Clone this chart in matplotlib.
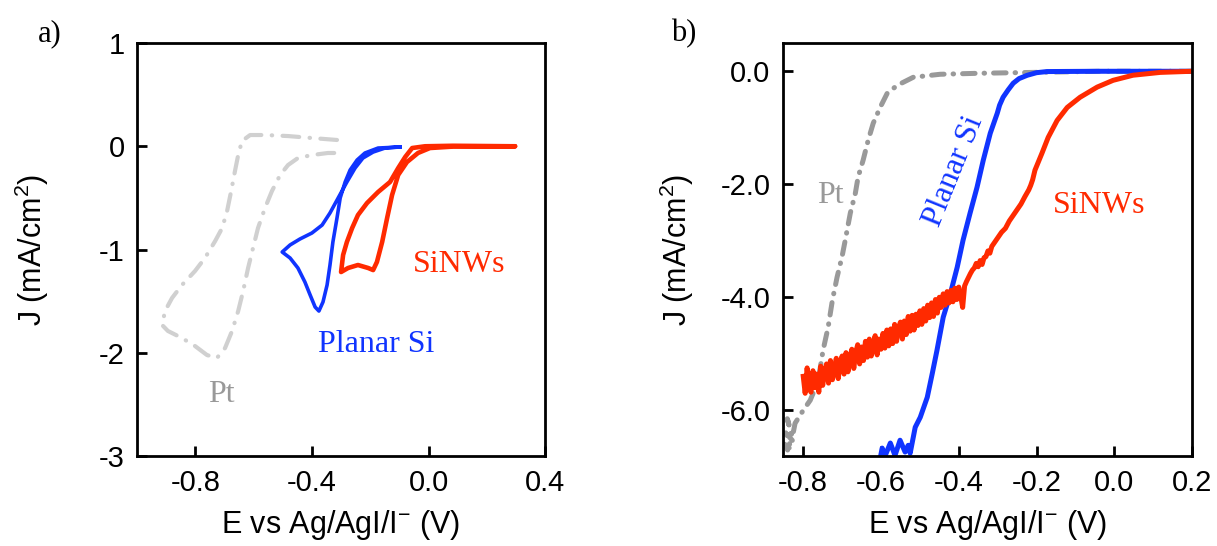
import matplotlib
matplotlib.use("Agg")
import matplotlib.pyplot as plt

plt.rcParams['font.family'] = ['Liberation Sans', 'DejaVu Sans']
plt.rcParams['mathtext.fontset'] = 'custom'
plt.rcParams['mathtext.rm'] = 'Liberation Sans'

# ---- panel a: cyclic voltammograms ----
pt_a_x = [-0.314, -0.400, -0.482, -0.561, -0.612, -0.640, -0.653, -0.664, -0.677, -0.691,
          -0.708, -0.732, -0.767, -0.801, -0.846, -0.880, -0.904, -0.914, -0.894, -0.846,
          -0.801, -0.760, -0.726, -0.698, -0.674, -0.653, -0.636, -0.619, -0.602, -0.585,
          -0.561, -0.537, -0.509, -0.482, -0.448, -0.400, -0.345, -0.297]
pt_a_y = [0.061, 0.080, 0.099, 0.109, 0.109, 0.051, -0.085, -0.240, -0.433, -0.627,
          -0.792, -0.918, -1.082, -1.208, -1.344, -1.470, -1.596, -1.731, -1.789, -1.857,
          -1.935, -2.022, -2.051, -1.954, -1.789, -1.596, -1.402, -1.179, -0.985, -0.792,
          -0.598, -0.433, -0.278, -0.182, -0.114, -0.085, -0.065, -0.065]

si_a_x = [-0.098, -0.149, -0.190, -0.225, -0.252, -0.280, -0.310, -0.338, -0.365, -0.400,
          -0.441, -0.475, -0.502, -0.475, -0.448, -0.424, -0.406, -0.389, -0.376, -0.362,
          -0.348, -0.338, -0.328, -0.314, -0.303, -0.286, -0.269, -0.245, -0.218, -0.173,
          -0.098]
si_a_y = [-0.007, -0.017, -0.056, -0.114, -0.211, -0.346, -0.501, -0.646, -0.763, -0.840,
          -0.898, -0.956, -1.024, -1.082, -1.179, -1.315, -1.441, -1.557, -1.596, -1.508,
          -1.344, -1.150, -0.927, -0.695, -0.501, -0.346, -0.230, -0.133, -0.065, -0.017,
          -0.007]

nw_a_x = [0.297, 0.084, -0.012, -0.056, -0.080, -0.104, -0.132, -0.173, -0.211, -0.242,
          -0.262, -0.280, -0.293, -0.300, -0.276, -0.242, -0.207, -0.190, -0.177, -0.159,
          -0.142, -0.125, -0.104, -0.074, -0.036, 0.005, 0.084, 0.297]
nw_a_y = [0.0, 0.005, 0.0, -0.017, -0.104, -0.211, -0.346, -0.443, -0.550, -0.666,
          -0.792, -0.927, -1.053, -1.218, -1.179, -1.150, -1.179, -1.199, -1.121, -0.927,
          -0.695, -0.472, -0.278, -0.153, -0.065, -0.017, -0.003, 0.0]

# ---- panel b: linear sweeps ----
pt_b_x = [0.200, -0.036, -0.191, -0.345, -0.448, -0.517, -0.558, -0.584, -0.602, -0.620,
          -0.633, -0.646, -0.659, -0.666, -0.679, -0.692, -0.700, -0.713, -0.725, -0.736,
          -0.749, -0.756, -0.764, -0.782, -0.800, -0.821, -0.828, -0.841, -0.826, -0.845,
          -0.830, -0.848, -0.833]
pt_b_y = [0.0, 0.0, -0.018, -0.035, -0.053, -0.106, -0.248, -0.389, -0.637, -0.920,
          -1.221, -1.575, -1.876, -2.159, -2.513, -2.991, -3.274, -3.646, -4.053, -4.531,
          -4.938, -5.239, -5.522, -5.823, -6.000, -6.230, -6.478, -6.150, -6.550, -6.400,
          -6.700, -6.600, -6.800]

si_b_x = [0.200, -0.036, -0.173, -0.200, -0.224, -0.245, -0.260, -0.273, -0.286, -0.295,
          -0.301, -0.319, -0.337, -0.353, -0.371, -0.389, -0.404, -0.422, -0.440, -0.456,
          -0.468, -0.481, -0.499, -0.512, -0.520, -0.525, -0.530, -0.538, -0.551, -0.564,
          -0.576, -0.589, -0.597, -0.602]
si_b_y = [0.0, 0.0, -0.005, -0.025, -0.071, -0.130, -0.212, -0.330, -0.460, -0.600,
          -0.743, -1.097, -1.575, -2.053, -2.513, -2.991, -3.469, -3.947, -4.354, -4.938,
          -5.345, -5.770, -6.124, -6.301, -6.584, -6.761, -6.620, -6.740, -6.530, -6.800,
          -6.580, -6.800, -6.670, -6.850]

nw_b_x = [-0.800, -0.795, -0.790, -0.785, -0.780, -0.775, -0.770, -0.765, -0.760, -0.755,
          -0.750, -0.745, -0.740, -0.735, -0.730, -0.725, -0.720, -0.715, -0.710, -0.705,
          -0.700, -0.695, -0.690, -0.685, -0.680, -0.675, -0.670, -0.665, -0.660, -0.655,
          -0.650, -0.645, -0.640, -0.635, -0.630, -0.625, -0.620, -0.615, -0.610, -0.605,
          -0.600, -0.595, -0.590, -0.585, -0.580, -0.575, -0.570, -0.565, -0.560, -0.555,
          -0.550, -0.545, -0.540, -0.535, -0.530, -0.525, -0.520, -0.515, -0.510, -0.505,
          -0.500, -0.495, -0.490, -0.485, -0.480, -0.475, -0.470, -0.465, -0.460, -0.455,
          -0.450, -0.445, -0.440, -0.435, -0.430, -0.425, -0.420, -0.415, -0.410, -0.405,
          -0.400, -0.395, -0.390, -0.385, -0.380, -0.375, -0.370, -0.365, -0.360, -0.355,
          -0.350, -0.345, -0.340, -0.335, -0.330, -0.325, -0.320, -0.315, -0.310, -0.300,
          -0.290, -0.280, -0.270, -0.260, -0.250, -0.240, -0.230, -0.220, -0.215, -0.210,
          -0.204, -0.186, -0.170, -0.147, -0.121, -0.088, -0.044, -0.003, 0.048, 0.118,
          0.200]
nw_b_y = [-5.40, -5.70, -5.25, -5.62, -5.68, -5.30, -5.60, -5.36, -5.68, -5.22,
          -5.56, -5.32, -5.18, -5.52, -5.12, -5.46, -5.26, -5.08, -5.44, -5.18,
          -5.04, -5.36, -4.98, -5.32, -5.08, -4.92, -5.26, -4.98, -4.84, -5.18,
          -4.88, -5.12, -4.78, -5.06, -4.74, -5.04, -4.82, -4.68, -5.02, -4.74,
          -4.92, -4.64, -4.90, -4.58, -4.86, -4.56, -4.82, -4.48, -4.78, -4.54,
          -4.44, -4.74, -4.42, -4.66, -4.34, -4.60, -4.32, -4.58, -4.30, -4.50,
          -4.24, -4.48, -4.20, -4.42, -4.14, -4.36, -4.10, -4.34, -4.04, -4.28,
          -4.00, -4.18, -3.94, -4.14, -3.90, -4.10, -3.88, -4.08, -3.84, -4.04,
          -3.82, -3.98, -4.18, -3.80, -3.72, -3.65, -3.58, -3.52, -3.48, -3.40,
          -3.46, -3.35, -3.42, -3.30, -3.28, -3.18, -3.22, -3.10, -3.05, -2.95,
          -2.85, -2.78, -2.65, -2.55, -2.45, -2.35, -2.22, -2.10, -2.02, -1.92,
          -1.75, -1.45, -1.17, -0.87, -0.64, -0.46, -0.28, -0.16, -0.07, -0.02,
          0.0]

a_xticks = [-0.8, -0.4, 0.0, 0.4]
a_yticks = [1, 0, -1, -2, -3]
b_xticks = [-0.8, -0.6, -0.4, -0.2, 0.0, 0.2]
b_yticks = [0.0, -2.0, -4.0, -6.0]

blue = '#1034ff'
red = '#ff2a00'

fig = plt.figure(figsize=(12.17, 5.46), dpi=100)
ax1 = fig.add_axes([0.1126, 0.1648, 0.3353, 0.7564])
ax2 = fig.add_axes([0.6434, 0.1648, 0.3361, 0.7564])

ax1.plot(pt_a_x, pt_a_y, color='#d0d0d0', lw=3, ls=(0, (4, 2.5, 0.1, 2.5)),
         dash_capstyle='round', solid_joinstyle='round')
ax1.plot(si_a_x, si_a_y, color=blue, lw=2.6, solid_joinstyle='round')
ax1.plot(nw_a_x, nw_a_y, color=red, lw=3.3, solid_joinstyle='round', solid_capstyle='round')
ax1.set_xlim(-1.0, 0.4)
ax1.set_ylim(-3, 1)
ax1.set_xticks(a_xticks)
ax1.set_xticklabels(['-0.8', '-0.4', '0.0', '0.4'])
ax1.set_yticks(a_yticks)
ax1.set_yticklabels(['1', '0', '-1', '-2', '-3'])
ax1.text(-0.378, -1.99, 'Planar Si', color=blue, family='Liberation Serif', fontsize=23)
ax1.text(-0.053, -1.22, 'SiNWs', color=red, family='Liberation Serif', fontsize=23)
ax1.text(-0.756, -2.48, 'Pt', color='#999999', family='Liberation Serif', fontsize=23)

ax2.plot(pt_b_x, pt_b_y, color='#999999', lw=3.6, ls=(0, (2.5, 1.8, 0.1, 1.8)),
         dash_capstyle='round')
ax2.plot(si_b_x, si_b_y, color=blue, lw=3.6, solid_joinstyle='round')
ax2.plot(nw_b_x, nw_b_y, color=red, lw=3.6, solid_joinstyle='round')
ax2.set_xlim(-0.852, 0.2)
ax2.set_ylim(-6.81, 0.5)
ax2.set_xticks(b_xticks)
ax2.set_xticklabels(['-0.8', '-0.6', '-0.4', '-0.2', '0.0', '0.2'])
ax2.set_yticks(b_yticks)
ax2.set_yticklabels(['0.0', '-2.0', '-4.0', '-6.0'])
ax2.text(-0.452, -2.78, 'Planar Si', color=blue, family='Liberation Serif', fontsize=23,
         rotation=68, rotation_mode='anchor')
ax2.text(-0.157, -2.51, 'SiNWs', color=red, family='Liberation Serif', fontsize=23)
ax2.text(-0.764, -2.34, 'Pt', color='#999999', family='Liberation Serif', fontsize=23)

for ax in (ax1, ax2):
    for s in ax.spines.values():
        s.set_linewidth(2)
    ax.tick_params(direction='in', length=7, width=2, labelsize=21, pad=9)
    ax.set_xlabel(r'E vs Ag/AgI/I$^{\mathregular{-}}$ (V)', fontsize=22)
    ax.set_ylabel(r'J (mA/cm$^{\mathregular{2}}$)', fontsize=22)
    ax.xaxis.set_label_coords(0.5, -0.125)
    ax.yaxis.set_label_coords(-0.212, 0.5)

fig.text(0.031, 0.925, 'a)', family='Liberation Serif', fontsize=22)
fig.text(0.551, 0.925, 'b)', family='Liberation Serif', fontsize=22)

fig.savefig('out.png', dpi=100)
